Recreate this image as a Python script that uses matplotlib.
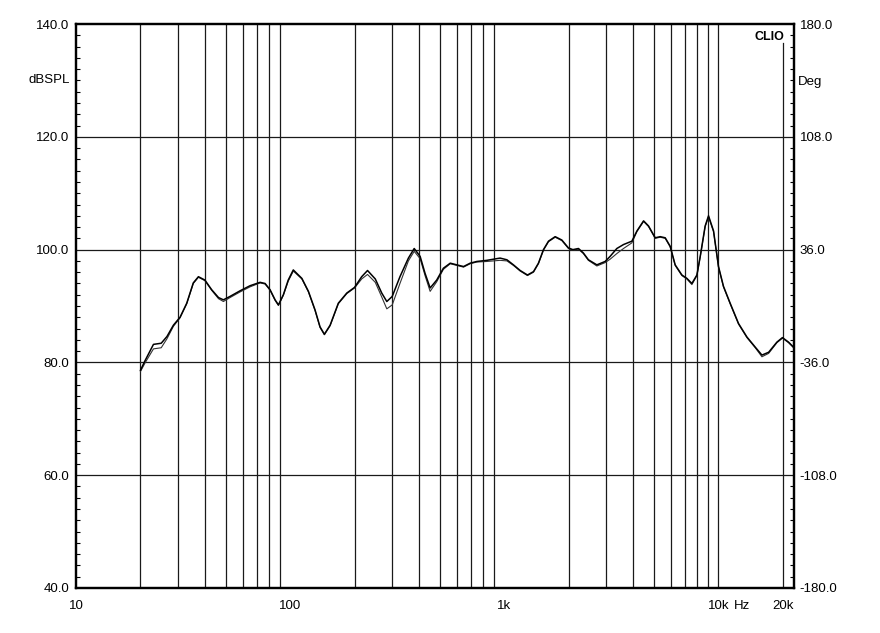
import matplotlib
matplotlib.use("Agg")
import matplotlib.pyplot as plt
from matplotlib.ticker import FixedLocator, NullLocator

plt.rcParams['font.family'] = ['Liberation Sans', 'DejaVu Sans']

# frequency points (Hz)
freq = [20, 21, 23, 25, 26.6, 28.5, 30.6, 32.9, 35.3, 37.3, 40, 43, 46.3, 48.8,
        52.4, 58.4, 65, 72.4, 76.4, 80.6, 85.1, 88.2, 93, 98, 103.5, 113.5,
        121.8, 130.8, 138, 144.6, 153.8, 168, 184, 200, 216, 230, 250, 268,
        283, 300, 326, 357, 380, 405, 427, 451, 484, 520, 560, 601, 646, 694,
        745, 830, 891, 957, 1030, 1105, 1188, 1285, 1371, 1446, 1526, 1611,
        1731, 1860, 1997, 2094, 2224, 2345, 2475, 2710, 2963, 3125, 3360,
        3610, 3950, 4170, 4480, 4725, 5077, 5357, 5654, 5963, 6294, 6765,
        7138, 7533, 7950, 8240, 8690, 9010, 9510, 10030, 10580, 11370,
        12440, 13620, 14900, 16000, 17200, 18800, 19950, 21300, 22500]

# measurement 1 (dB SPL)
spl_a = [78.6, 80.3, 83.2, 83.4, 84.6, 86.6, 88.0, 90.5, 94.1, 95.2, 94.6,
         92.9, 91.5, 91.1, 91.7, 92.7, 93.6, 94.2, 94.0, 92.9, 91.1, 90.2,
         92.0, 94.6, 96.4, 94.9, 92.6, 89.3, 86.3, 85.0, 86.6, 90.5, 92.3,
         93.3, 95.2, 96.3, 94.8, 92.3, 90.8, 91.7, 95.2, 98.5, 100.2, 98.8,
         95.8, 93.2, 94.6, 96.7, 97.6, 97.3, 97.0, 97.6, 97.9, 98.1, 98.3,
         98.5, 98.2, 97.3, 96.3, 95.5, 96.1, 97.6, 100.0, 101.5, 102.3,
         101.7, 100.3, 100.0, 100.2, 99.4, 98.2, 97.3, 97.9, 98.8, 100.2,
         100.9, 101.5, 103.3, 105.1, 104.2, 102.1, 102.3, 102.1, 100.6, 97.3,
         95.5, 94.9, 94.0, 95.5, 98.8, 104.2, 106.0, 103.3, 97.0, 93.5, 90.5,
         86.9, 84.5, 82.7, 81.3, 81.8, 83.6, 84.4, 83.6, 82.7]

# measurement 2 (dB SPL)
spl_b = [78.4, 79.9, 82.4, 82.6, 84.2, 86.4, 87.9, 90.4, 94.0, 95.1, 94.5,
         92.8, 91.3, 90.8, 91.5, 92.5, 93.4, 94.1, 93.9, 92.8, 91.0, 90.1,
         91.9, 94.4, 96.2, 94.8, 92.5, 89.2, 86.2, 84.9, 86.5, 90.4, 92.2,
         93.2, 94.8, 95.6, 94.2, 91.6, 89.5, 90.2, 94.0, 98.0, 99.7, 98.4,
         95.4, 92.6, 94.3, 96.5, 97.5, 97.2, 96.9, 97.5, 97.8, 97.9, 98.0,
         98.1, 98.0, 97.2, 96.2, 95.4, 96.0, 97.5, 99.9, 101.4, 102.2,
         101.6, 100.2, 99.9, 100.1, 99.3, 98.1, 97.1, 97.7, 98.3, 99.3,
         100.2, 101.2, 103.2, 105.0, 104.1, 102.0, 102.2, 102.0, 100.5, 97.2,
         95.4, 94.8, 93.8, 95.4, 98.7, 104.1, 105.8, 103.2, 96.9, 93.4, 90.4,
         86.8, 84.4, 82.6, 81.0, 81.6, 83.5, 84.3, 83.5, 82.6]

x_ticks = [10, 100, 1000, 10000, 20000]
x_labels = ["10", "100", "1k", "10k", "20k"]
y_ticks = [40, 60, 80, 100, 120, 140]
deg_ticks = [-180, -108, -36, 36, 108, 180]

fig = plt.figure(figsize=(8.8, 6.33), dpi=100)
ax = fig.add_axes([0.0864, 0.0711, 0.8159, 0.8909])

# vertical grid: 20..90, 200..900, 2k..9k, 10k, 20k
vgrid = [m * d for d in (10, 100, 1000) for m in range(2, 10)] + [10000, 20000]
for v in vgrid:
    if v == 20000:
        # stops under the CLIO badge
        ax.plot([v, v], [40, 136.6], color='#1a1a1a', lw=0.9, zorder=1)
    else:
        ax.axvline(v, color='#1a1a1a', lw=0.9, zorder=1)
for h in y_ticks[1:-1]:
    ax.axhline(h, color='#1a1a1a', lw=0.9, zorder=1)

ax.plot(freq, spl_b, color='#333333', lw=0.8, zorder=3)
ax.plot(freq, spl_a, color='black', lw=1.1, zorder=4)

ax.set_xscale('log')
ax.set_xlim(10, 22600)
ax.set_ylim(40, 140)

ax.xaxis.set_major_locator(FixedLocator(x_ticks))
ax.xaxis.set_minor_locator(NullLocator())
ax.set_xticklabels(x_labels)
ax.tick_params(axis='x', length=0, pad=9, labelsize=9.5)

ax.set_yticks(y_ticks)
ax.set_yticklabels([f"{v:.1f}" for v in y_ticks])
ax.yaxis.set_minor_locator(FixedLocator(range(40, 141, 2)))
ax.tick_params(axis='y', which='major', length=0, pad=5, labelsize=9.5)
ax.tick_params(axis='y', which='minor', direction='in', length=3, width=0.8)

for s in ax.spines.values():
    s.set_linewidth(1.6)

ax2 = ax.twinx()
ax2.set_ylim(-180, 180)
ax2.set_yticks(deg_ticks)
ax2.set_yticklabels([f"{v:.1f}" for v in deg_ticks])
ax2.yaxis.set_minor_locator(FixedLocator([-180 + 7.2 * i for i in range(51)]))
ax2.tick_params(axis='y', which='major', length=0, pad=4, labelsize=9.5)
ax2.tick_params(axis='y', which='minor', direction='in', length=3, width=0.8)
for s in ax2.spines.values():
    s.set_linewidth(1.6)

ax.text(-0.008, 130, "dBSPL", transform=ax.get_yaxis_transform(),
        ha='right', va='center', fontsize=9.5)
ax2.text(1.006, 0.898, "Deg", transform=ax.transAxes,
         ha='left', va='center', fontsize=9.5)
ax.text(0.987, 0.988, "CLIO", transform=ax.transAxes, ha='right', va='top',
        fontsize=9, fontweight='bold', zorder=5)
ax.annotate("Hz", xy=(12900, 40), xycoords='data', xytext=(0, -9),
            textcoords='offset points', ha='center', va='top', fontsize=9.5)

fig.savefig("out.png", dpi=100)
